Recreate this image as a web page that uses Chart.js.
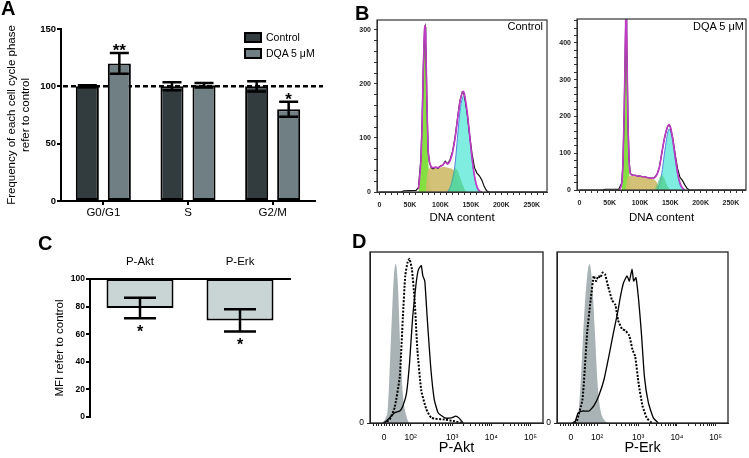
<!DOCTYPE html>
<html>
<head>
<meta charset="utf-8">
<script src="https://cdn.jsdelivr.net/npm/chart.js@4.4.0/dist/chart.umd.min.js"></script>
<style>
  body { margin: 0; background: #fff; font-family: "Liberation Sans", Arial, sans-serif; }
  #fig { position: relative; width: 749px; height: 458px; overflow: hidden; background: #fff; }
  canvas { position: absolute; }
  .panel { position: absolute; font-weight: bold; font-size: 20px; line-height: 20px; color: #000; }
  .txt { position: absolute; color: #000; white-space: nowrap; line-height: 1; }
  .key { position: absolute; width: 18px; height: 11px; border: 2px solid #000; box-sizing: border-box; }
</style>
</head>
<body>
<div id="fig">
  <canvas id="chartA" width="330" height="232" style="left:0;top:0"></canvas>
  <canvas id="chartB1" width="210" height="225" style="left:340px;top:0"></canvas>
  <canvas id="chartB2" width="209" height="225" style="left:540px;top:0"></canvas>
  <canvas id="chartC" width="270" height="205" style="left:30px;top:225px"></canvas>
  <canvas id="chartD1" width="210" height="218" style="left:340px;top:240px"></canvas>
  <canvas id="chartD2" width="210" height="218" style="left:527px;top:240px"></canvas>

  <div class="panel" style="left:1px;top:-2px">A</div>
  <div class="panel" style="left:355px;top:3px">B</div>
  <div class="panel" style="left:38px;top:233px">C</div>
  <div class="panel" style="left:352px;top:231px">D</div>

  <!-- legend of panel A -->
  <div class="key" style="left:244px;top:32px;background:#323b3d"></div>
  <div class="txt" style="left:266px;top:32px;font-size:10.5px">Control</div>
  <div class="key" style="left:244px;top:48px;background:#6f7f83"></div>
  <div class="txt" style="left:266px;top:48px;font-size:10.5px">DQA 5 μM</div>

  <!-- sample names of panel B -->
  <div class="txt" style="right:206px;top:21px;font-size:11px">Control</div>
  <div class="txt" style="right:5px;top:21px;font-size:11px">DQA 5 μM</div>
</div>

<script>
Chart.defaults.font.family = '"Liberation Sans", Arial, sans-serif';
Chart.defaults.color = '#000';
Chart.defaults.animation = false;
Chart.defaults.plugins.legend.display = false;
Chart.defaults.plugins.tooltip.enabled = false;

// ---- Panel A: cell cycle phases ----
const phases = ['G0/G1', 'S', 'G2/M'];
const controlMean = [100, 100, 100];
const controlErr = [1, 3.5, 4.5];
const dqaMean = [120, 101, 80];
const dqaErr = [9, 2, 6.5];
const dqaStars = ['**', '', '*'];

// ---- Panel B: DNA content histograms (x in thousands) ----
const ctrlDnaK = [0, 35, 40, 60, 64, 68, 70, 72, 74, 75, 76, 78, 80, 82, 85, 88, 92, 96, 100, 104,
  108, 112, 116, 120, 124, 128, 132, 136, 138, 140, 144, 148, 152, 156, 160, 164, 168, 172, 176, 180, 275];
const ctrlRaw = [0, 0, 2, 3, 8, 60, 130, 230, 300, 305, 280, 160, 75, 55, 45, 43, 46, 44, 48, 50,
  57, 52, 60, 75, 100, 135, 168, 185, 184, 175, 145, 105, 70, 45, 35, 30, 22, 10, 2, 0, 0];
const ctrlFit = [null, null, null, null, 5, 58, 128, 228, 300, 308, 282, 162, 78, 57, 47, 45, 46, 45, 47, 50,
  55, 52, 58, 73, 98, 133, 166, 184, 186, 178, 148, 106, 62, 30, 10, 2, 0, null, null, null, null];
const ctrlG1 = [null, null, null, null, 0, 50, 120, 220, 288, 294, 268, 150, 62, 22, 4, 0, null, null, null, null,
  null, null, null, null, null, null, null, null, null, null, null, null, null, null, null, null, null, null, null, null, null];
const ctrlS = [null, null, null, null, null, null, null, null, null, null, 0, 28, 40, 44, 45, 45, 45, 45, 45, 46,
  46, 45, 44, 42, 36, 22, 8, 0, null, null, null, null, null, null, null, null, null, null, null, null, null];
const ctrlMix = [null, null, null, null, null, null, null, null, null, null, null, null, null, null, null, null, null, null, null, null,
  null, 0, 12, 30, 44, 40, 28, 15, 10, 4, 0, null, null, null, null, null, null, null, null, null, null];
const ctrlG2 = [null, null, null, null, null, null, null, null, null, null, null, null, null, null, null, null, null, null, null, null,
  null, 0, 8, 22, 50, 100, 148, 174, 177, 172, 145, 104, 60, 28, 8, 1, 0, null, null, null, null];

const dqaDnaK = [0, 38, 42, 65, 70, 72, 74, 76, 77, 78, 80, 82, 84, 88, 92, 96, 100, 104, 108, 112,
  116, 120, 124, 128, 132, 136, 140, 144, 146, 148, 150, 154, 158, 162, 166, 170, 174, 178, 182, 275];
const dqaRaw = [0, 0, 2, 2, 20, 80, 220, 420, 500, 430, 200, 80, 45, 40, 40, 38, 38, 36, 36, 34,
  33, 32, 34, 42, 62, 100, 138, 165, 174, 177, 172, 142, 98, 58, 34, 26, 14, 4, 0, 0];
const dqaFit = [null, null, null, 0, 18, 78, 218, 420, 505, 432, 198, 78, 45, 40, 40, 38, 38, 36, 36, 34,
  33, 32, 34, 42, 62, 100, 138, 165, 174, 178, 172, 140, 92, 48, 20, 6, 0, null, null, null];
const dqaG1 = [null, null, null, null, 0, 60, 200, 380, 415, 380, 180, 50, 12, 0, null, null, null, null, null, null,
  null, null, null, null, null, null, null, null, null, null, null, null, null, null, null, null, null, null, null, null];
const dqaS = [null, null, null, null, null, null, null, 0, 10, 22, 34, 38, 38, 38, 38, 37, 37, 36, 35, 34,
  33, 31, 28, 20, 8, 0, null, null, null, null, null, null, null, null, null, null, null, null, null, null];
const dqaMix = [null, null, null, null, null, null, null, null, null, null, null, null, null, null, null, null, null, null, null, null,
  null, null, 0, 15, 32, 41, 32, 16, 9, 4, 0, null, null, null, null, null, null, null, null, null];
const dqaG2 = [null, null, null, null, null, null, null, null, null, null, null, null, null, null, null, null, null, null, null, null,
  null, null, null, 0, 15, 45, 95, 140, 158, 166, 162, 132, 85, 42, 14, 3, 0, null, null, null];

// ---- Panel C: MFI refer to control ----
const proteins = ['P-Akt', 'P-Erk'];
const mfiMean = [79, 70];
const mfiErr = [7.5, 8];
const mfiStars = ['*', '*'];

// ---- Panel D: flow histograms (x in display decades, y in % of mode) ----
const flowTickPos = [1.26, 1.94, 3, 4, 5];
const flowTickLabels = ['0', '10²', '10³', '10⁴', '10⁵'];
const aktIsoX = [1.20, 1.30, 1.36, 1.44, 1.51, 1.56, 1.61, 1.68, 1.74, 1.83, 1.90];
const aktIsoY = [0, 3, 10, 52, 86, 93, 82, 43, 17, 4, 0];
const aktDqaX = [1.25, 1.40, 1.53, 1.66, 1.74, 1.80, 1.86, 1.91, 1.97, 2.04, 2.11, 2.21, 2.34, 2.47, 2.81, 3.07, 3.24];
const aktDqaY = [0, 2, 9, 27, 62, 86, 94, 96, 90, 72, 43, 19, 8, 3, 2, 1, 0];
const aktCtrlX = [1.27, 1.40, 1.53, 1.66, 1.74, 1.83, 1.91, 1.99, 2.08, 2.14, 2.21, 2.25, 2.30, 2.36, 2.45, 2.54, 2.64, 2.81, 2.98, 3.09, 3.17, 3.28];
const aktCtrlY = [0, 3, 6, 7, 10, 17, 35, 62, 82, 90, 92, 86, 83, 62, 33, 14, 6, 3, 3, 4, 3, 0];
const erkIsoX = [1.38, 1.45, 1.51, 1.60, 1.68, 1.74, 1.81, 1.88, 1.95, 2.02, 2.15, 2.24];
const erkIsoY = [0, 5, 23, 62, 86, 93, 82, 53, 23, 8, 1, 0];
const erkDqaX = [1.35, 1.41, 1.56, 1.68, 1.77, 1.85, 1.91, 1.97, 2.02, 2.08, 2.14, 2.22, 2.32, 2.41, 2.48, 2.58, 2.67, 2.77, 2.85, 2.92, 3.01, 3.11, 3.22, 3.35];
const erkDqaY = [0, 1, 14, 53, 72, 86, 83, 86, 85, 88, 87, 80, 72, 69, 60, 55, 54, 51, 43, 39, 23, 10, 3, 0];
const erkCtrlX = [1.30, 1.37, 1.45, 1.56, 1.73, 1.85, 1.98, 2.11, 2.24, 2.37, 2.48, 2.54, 2.62, 2.71, 2.77, 2.84, 2.88, 2.94, 3.01, 3.08, 3.16, 3.26, 3.39, 3.52];
const erkCtrlY = [0, 1, 6, 7, 7, 10, 16, 25, 39, 54, 66, 74, 82, 86, 83, 90, 83, 85, 72, 53, 27, 12, 3, 0];

// ---------- plugins ----------
const errorBarPlugin = {
  id: 'errorBars',
  afterDatasetsDraw(chart, args, opts) {
    const ctx = chart.ctx;
    const yScale = chart.scales.y;
    chart.data.datasets.forEach((ds, i) => {
      if (!ds.errors) return;
      chart.getDatasetMeta(i).data.forEach((bar, j) => {
        const raw = ds.data[j];
        const v = Array.isArray(raw) ? raw[0] : raw;
        const top = yScale.getPixelForValue(v + ds.errors[j]);
        const bot = yScale.getPixelForValue(v - ds.errors[j]);
        ctx.save();
        ctx.strokeStyle = '#000';
        ctx.lineWidth = opts.lineWidth;
        ctx.beginPath();
        ctx.moveTo(bar.x, top); ctx.lineTo(bar.x, bot);
        ctx.moveTo(bar.x - opts.cap, top); ctx.lineTo(bar.x + opts.cap, top);
        ctx.moveTo(bar.x - opts.cap, bot); ctx.lineTo(bar.x + opts.cap, bot);
        ctx.stroke();
        const star = ds.stars && ds.stars[j];
        if (star) {
          ctx.fillStyle = '#000';
          ctx.font = opts.starFont;
          ctx.textAlign = 'center';
          ctx.textBaseline = 'alphabetic';
          ctx.fillText(star, bar.x, opts.starBelow ? bot + opts.starGap : top + opts.starGap);
        }
        ctx.restore();
      });
    });
  }
};

const refLinePlugin = {
  id: 'refLine',
  beforeDatasetsDraw(chart, args, opts) {
    const { ctx, chartArea: a, scales: { y } } = chart;
    const py = y.getPixelForValue(opts.value);
    ctx.save();
    ctx.setLineDash([5, 3]);
    ctx.lineWidth = 2.5;
    ctx.strokeStyle = '#000';
    ctx.beginPath();
    ctx.moveTo(a.left + 2, py);
    ctx.lineTo(a.right + opts.extend, py);
    ctx.stroke();
    ctx.restore();
  }
};

const framePlugin = {
  id: 'frame',
  afterDatasetsDraw(chart, args, opts) {
    const { ctx, chartArea: a } = chart;
    ctx.save();
    ctx.strokeStyle = opts.color;
    ctx.lineWidth = opts.width;
    ctx.strokeRect(a.left, a.top, a.right - a.left, a.bottom - a.top);
    ctx.restore();
  }
};

// ---------- Panel A ----------
new Chart(document.getElementById('chartA'), {
  type: 'bar',
  data: {
    labels: phases,
    datasets: [
      { label: 'Control', data: controlMean, errors: controlErr, backgroundColor: '#323b3d',
        borderColor: '#000', borderWidth: 2, borderSkipped: false },
      { label: 'DQA 5 μM', data: dqaMean, errors: dqaErr, stars: dqaStars, backgroundColor: '#6f7f83',
        borderColor: '#000', borderWidth: 2, borderSkipped: false }
    ]
  },
  options: {
    responsive: false,
    categoryPercentage: 0.756,
    barPercentage: 0.72,
    layout: { padding: { top: 29, right: 15, left: 0, bottom: 0 } },
    plugins: {
      errorBars: { lineWidth: 2.5, cap: 9.5, starFont: 'bold 17px "Liberation Sans", Arial', starGap: 3, starBelow: false },
      refLine: { value: 100, extend: 8 }
    },
    scales: {
      x: {
        afterFit: (s) => { s.height = 31; },
        grid: { offset: false, drawOnChartArea: false, color: '#000', lineWidth: 2, tickLength: 4 },
        border: { color: '#000', width: 2 },
        ticks: { font: { size: 11.5 }, padding: 1, maxRotation: 0 }
      },
      y: {
        min: 0, max: 150,
        afterFit: (s) => { s.width = 61; },
        grid: { drawOnChartArea: false, color: '#000', lineWidth: 2, tickLength: 4 },
        border: { color: '#000', width: 2 },
        ticks: { stepSize: 50, font: { size: 9.5, weight: 'bold' }, padding: 1 },
        title: { display: true, text: ['Frequency of each cell cycle phase', 'refer to control'],
          font: { size: 11.5 }, padding: { top: 5, bottom: 0 } }
      }
    }
  },
  plugins: [refLinePlugin, errorBarPlugin]
});

// ---------- Panel B ----------
function pts(xs, ys) { return xs.map((x, i) => ({ x: x, y: ys[i] })); }

function dnaHistogram(id, xs, series, yMax, areaTop, xHeight) {
  const yTicks = [];
  for (let v = 0; v <= yMax; v += 20) yTicks.push(v);
  const xTicks = [];
  for (let v = 0; v <= 270; v += 10) xTicks.push(v);
  const fillSet = (ys, color, edge) => ({
    data: pts(xs, ys), fill: 'origin', backgroundColor: color,
    borderColor: edge || 'rgba(0,0,0,0)', borderWidth: edge ? 1 : 0,
    pointRadius: 0, cubicInterpolationMode: 'monotone'
  });
  return new Chart(document.getElementById(id), {
    type: 'line',
    data: {
      datasets: [
        { data: pts(xs, series.fit), borderColor: '#c03cc6', borderWidth: 1.6, pointRadius: 0,
          fill: false, cubicInterpolationMode: 'monotone' },
        { data: pts(xs, series.raw), borderColor: '#111', borderWidth: 1.2, pointRadius: 0, fill: false, tension: 0 },
        fillSet(series.mix, 'rgba(70,200,120,0.6)'),
        fillSet(series.g2, 'rgba(120,236,222,0.95)', '#5b7fe3'),
        fillSet(series.s, 'rgba(208,190,112,0.95)'),
        fillSet(series.g1, 'rgba(125,222,55,0.95)')
      ]
    },
    options: {
      responsive: false,
      layout: { padding: { top: areaTop, right: 2, left: 0, bottom: 0 } },
      plugins: { frame: { color: '#333', width: 1.2 } },
      scales: {
        x: {
          type: 'linear', min: -4, max: 275,
          afterFit: (s) => { s.height = xHeight; },
          afterBuildTicks: (s) => { s.ticks = xTicks.map(v => ({ value: v })); },
          grid: { drawOnChartArea: false, color: '#333', tickLength: 3 },
          border: { color: '#333' },
          ticks: { autoSkip: false, maxRotation: 0, padding: 6, font: { size: 7, weight: 'bold' }, color: '#222',
            callback: (v) => v % 50 === 0 ? (v === 0 ? '0' : v + 'K') : '' },
          title: { display: true, text: 'DNA content', font: { size: 11.5 }, padding: { top: 0, bottom: 0 } }
        },
        y: {
          min: 0, max: yMax,
          afterFit: (s) => { s.width = 37; },
          afterBuildTicks: (s) => { s.ticks = yTicks.map(v => ({ value: v })); },
          grid: { drawOnChartArea: false, color: '#333', tickLength: 3 },
          border: { color: '#333' },
          ticks: { autoSkip: false, padding: 3, font: { size: 7, weight: 'bold' }, color: '#222',
            callback: (v) => v % 100 === 0 ? String(v) : '' }
        }
      }
    },
    plugins: [framePlugin]
  });
}

dnaHistogram('chartB1', ctrlDnaK,
  { raw: ctrlRaw, fit: ctrlFit, g1: ctrlG1, s: ctrlS, mix: ctrlMix, g2: ctrlG2 }, 318, 20, 33);
dnaHistogram('chartB2', dqaDnaK,
  { raw: dqaRaw, fit: dqaFit, g1: dqaG1, s: dqaS, mix: dqaMix, g2: dqaG2 }, 465, 19, 35);

// ---------- Panel C ----------
new Chart(document.getElementById('chartC'), {
  type: 'bar',
  data: {
    labels: proteins,
    datasets: [{
      data: mfiMean.map(v => [v, 100]), errors: mfiErr, stars: mfiStars,
      backgroundColor: '#c9d4d4', borderColor: '#000', borderWidth: 2, borderSkipped: false
    }]
  },
  options: {
    responsive: false,
    categoryPercentage: 1,
    barPercentage: 0.67,
    layout: { padding: { top: 0, right: 10, left: 0, bottom: 13 } },
    plugins: {
      errorBars: { lineWidth: 2.5, cap: 16, starFont: 'bold 16px "Liberation Sans", Arial', starGap: 19, starBelow: true }
    },
    scales: {
      x: {
        position: 'top',
        afterFit: (s) => { s.height = 54; },
        grid: { display: false, drawTicks: false },
        border: { color: '#000', width: 2 },
        ticks: { font: { size: 11.5 }, padding: 10, maxRotation: 0 }
      },
      y: {
        min: 0, max: 100,
        afterFit: (s) => { s.width = 60; },
        grid: { drawOnChartArea: false, color: '#000', lineWidth: 2, tickLength: 4 },
        border: { color: '#000', width: 2 },
        ticks: { stepSize: 20, font: { size: 8.5, weight: 'bold' }, padding: 1 },
        title: { display: true, text: 'MFI refer to control', font: { size: 11.5 }, padding: { top: 23, bottom: 0 } }
      }
    }
  },
  plugins: [errorBarPlugin]
});

// ---------- Panel D ----------
const flowMinor = [];
for (let k = 1; k <= 4; k++) flowMinor.push(+(flowTickPos[0] - 0.068 * k).toFixed(3));
for (let k = 1; k < 10; k++) flowMinor.push(+(flowTickPos[0] + (flowTickPos[1] - flowTickPos[0]) * k / 10).toFixed(3));
for (let d = 1; d < 4; d++) {
  for (let k = 2; k < 10; k++) flowMinor.push(+(flowTickPos[d] + (flowTickPos[d + 1] - flowTickPos[d]) * Math.log10(k)).toFixed(3));
}
const flowTicks = flowTickPos.concat(flowMinor).sort((a, b) => a - b);

function flowHistogram(id, iso, treated, control, marker, rightPad) {
  return new Chart(document.getElementById(id), {
    type: 'line',
    data: {
      datasets: [
        { data: pts(control[0], control[1]), borderColor: '#000', borderWidth: 1.3, pointRadius: 0, fill: false, tension: 0.15 },
        { data: pts(treated[0], treated[1]), borderColor: '#000', borderWidth: 2, borderDash: [2, 1.5],
          pointRadius: 0, fill: false, tension: 0.15 },
        { data: pts(iso[0], iso[1]), backgroundColor: '#a9b2b4', borderWidth: 0, pointRadius: 0,
          fill: 'origin', cubicInterpolationMode: 'monotone' }
      ]
    },
    options: {
      responsive: false,
      layout: { padding: { top: 12, right: rightPad, left: 0, bottom: 0 } },
      plugins: { frame: { color: '#222', width: 1.3 } },
      scales: {
        x: {
          type: 'linear', min: 0.9, max: 5.32,
          afterFit: (s) => { s.height = 35; },
          afterBuildTicks: (s) => { s.ticks = flowTicks.map(v => ({ value: v })); },
          grid: { drawOnChartArea: false, color: '#222', tickLength: 3 },
          border: { color: '#222' },
          ticks: { autoSkip: false, maxRotation: 0, padding: 7, font: { size: 8.5 },
            callback: (v) => { const i = flowTickPos.indexOf(v); return i >= 0 ? flowTickLabels[i] : ''; } },
          title: { display: true, text: marker, font: { size: 14.5 }, padding: { top: 0, bottom: 1 } }
        },
        y: {
          min: 0, max: 100,
          afterFit: (s) => { s.width = 30; },
          afterBuildTicks: (s) => { s.ticks = [{ value: 0 }]; },
          grid: { drawOnChartArea: false, color: '#222', tickLength: 3 },
          border: { color: '#222' },
          ticks: { padding: 3, font: { size: 8.5 } }
        }
      }
    },
    plugins: [framePlugin]
  });
}

flowHistogram('chartD1', [aktIsoX, aktIsoY], [aktDqaX, aktDqaY], [aktCtrlX, aktCtrlY], 'P-Akt', 7);
flowHistogram('chartD2', [erkIsoX, erkIsoY], [erkDqaX, erkDqaY], [erkCtrlX, erkCtrlY], 'P-Erk', 9);
</script>
</body>
</html>
